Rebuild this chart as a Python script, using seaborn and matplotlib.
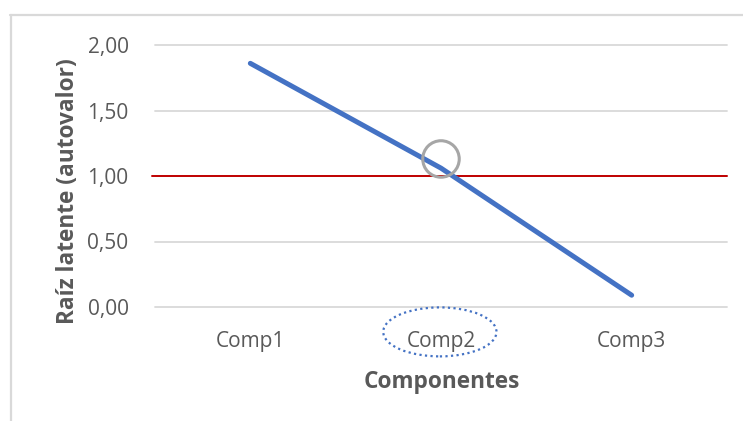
import matplotlib
matplotlib.use("Agg")
import matplotlib.pyplot as plt
from matplotlib.patches import Ellipse
from matplotlib.lines import Line2D
import seaborn as sns
import pandas as pd

# Eigenvalues per component (scree plot)
componentes = ["Comp1", "Comp2", "Comp3"]
autovalores = [1.86, 1.06, 0.09]
criterio_kaiser = 1.0
y_ticks = [0.0, 0.5, 1.0, 1.5, 2.0]
y_tick_labels = ["0,00", "0,50", "1,00", "1,50", "2,00"]

sns.set_theme(style="white")
plt.rcParams["font.family"] = ["Open Sans", "DejaVu Sans"]

W, H, DPI = 743, 421, 100
fig = plt.figure(figsize=(W / DPI, H / DPI), dpi=DPI)

# axes placed in pixel units
left, right, top, bottom = 155, 727, 45, 307
ax = fig.add_axes([left / W, 1 - bottom / H, (right - left) / W, (bottom - top) / H])

df = pd.DataFrame({"Componente": componentes, "Autovalor": autovalores})
df["pos"] = range(len(df))

# gridlines
ax.set_ylim(0, 2)
ax.set_xlim(-0.5, len(componentes) - 0.5)
ax.set_yticks(y_ticks)
ax.set_yticklabels(y_tick_labels)
ax.set_xticks(df["pos"])
ax.set_xticklabels(componentes)
for yv in y_ticks:
    ax.axhline(yv, color="#D9D9D9", lw=1.3, zorder=0, clip_on=False)

# Kaiser criterion line
ax.axhline(criterio_kaiser, xmin=-0.005, xmax=1.0, color="#C00000", lw=1.4,
           zorder=2, clip_on=False)

sns.lineplot(data=df, x="pos", y="Autovalor", ax=ax, color="#4472C4",
             lw=3.6, solid_capstyle="round", zorder=3)

# highlight around the crossing point
ax.scatter([1], [1.13], s=690, facecolors="none", edgecolors="#A6A6A6",
           linewidths=2.2, zorder=4, clip_on=False)

for s in ax.spines.values():
    s.set_visible(False)

ax.tick_params(axis="both", length=0, labelsize=15, labelcolor="#595959")
ax.tick_params(axis="y", pad=19)
ax.tick_params(axis="x", pad=17)

ax.set_xlabel("Componentes", fontsize=16.3, fontweight="bold", color="#595959")
ax.set_ylabel("Raíz latente (autovalor)", fontsize=16.3, fontweight="bold",
              color="#595959")
ax.xaxis.set_label_coords(0.502, -0.286)
ax.xaxis.label.set_va("center")
ax.yaxis.set_label_coords(-0.152, 0.443)
ax.yaxis.label.set_va("center")

# dotted ellipse around the Comp2 label
ax.add_patch(Ellipse((0.498, -0.095), 0.198, 0.187, transform=ax.transAxes,
                     fill=False, ls=(0, (1, 1.5)), lw=1.6, ec="#4472C4",
                     clip_on=False))

# chart area border
fig.add_artist(Line2D([10 / W, 1], [1 - 15 / H, 1 - 15 / H],
                      transform=fig.transFigure, color="#D9D9D9", lw=1.6))
fig.add_artist(Line2D([11 / W, 11 / W], [1 - 15 / H, 0],
                      transform=fig.transFigure, color="#D9D9D9", lw=1.6))

fig.savefig("out.png", dpi=DPI)
